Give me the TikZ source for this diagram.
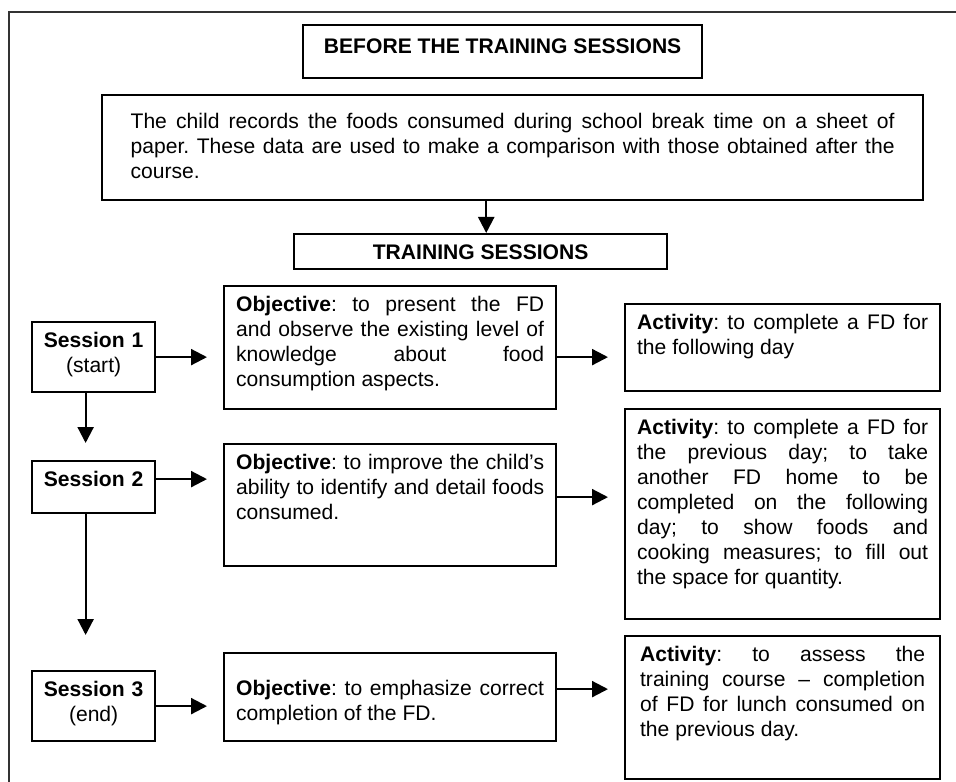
\documentclass[tikz,border=0pt]{standalone}
\usepackage{fontspec}
\setmainfont{Liberation Sans}
\usepackage{tikz}
\usetikzlibrary{arrows.meta}
\tolerance=10000
\hyphenpenalty=10000
\hbadness=10000
\frenchspacing

\begin{document}
\begin{tikzpicture}[
    every node/.style={font=\fontsize{15}{17.8}\selectfont},
    box/.style={draw,line width=1.6pt,anchor=north west,inner ysep=0.15cm,text height=0.475cm},
    txt/.style={box,inner xsep=0.3cm,align=justify},
    sess/.style={box,inner xsep=0.1cm,text width=2.875cm,align=center,text depth=#1},
    arr/.style={line width=1.6pt,-{Triangle[length=0.4cm,width=0.4cm]}},
    hor/.style={arr,shorten >=0.4cm}
  ]
  \useasboundingbox (0,0) rectangle (23.9,-19.55);
  % outer frame
  \draw[line width=0.9pt,black!80] (0.225,-0.3) rectangle (24.3,-20);

  % Before the sessions
  \node[box,minimum width=9.975cm,text height=0.55cm,text depth=0.475cm] (before) at (7.55,-0.6) {\textbf{BEFORE THE TRAINING SESSIONS}};
  \node[txt,inner xsep=0.7125cm,text width=19.1cm,text height=0.675cm,text depth=1.65cm] (intro) at (2.525,-2.35)
    {The child records the foods consumed during school break time on a sheet of\linebreak paper. These data are used to make a comparison with those obtained after the\linebreak course.};
  \node[box,minimum width=9.325cm,text depth=0.1cm] (training) at (7.325,-5.825) {\textbf{TRAINING SESSIONS}};

  % Sessions
  \node[sess=0.975cm] (s1) at (0.775,-8.025) {\textbf{Session 1}\\(start)};
  \node[sess=0.525cm] (s2) at (0.775,-11.5) {\textbf{Session 2}};
  \node[sess=0.975cm] (s3) at (0.775,-16.75) {\textbf{Session 3}\\(end)};

  % Objectives
  \node[txt,text width=7.7cm,text depth=2.3cm] (obj1) at (5.575,-7.125)
    {\textbf{Objective}: to present the FD\linebreak and observe the existing level of\linebreak knowledge about food\linebreak consumption aspects.};
  \node[txt,text width=7.7cm,text depth=2.275cm] (obj2) at (5.575,-11.075)
    {\textbf{Objective}: to improve the child's\linebreak ability to identify and detail foods\linebreak consumed.};
  \node[txt,text width=7.7cm,text height=0.9cm,text depth=1cm] (obj3) at (5.575,-16.3)
    {\textbf{Objective}: to emphasize correct\linebreak completion of the FD.};

  % Activities
  \node[txt,text width=7.275cm,text depth=1.4cm] (act1) at (15.6,-7.575)
    {\textbf{Activity}: to complete a FD for\linebreak the following day};
  \node[txt,text width=7.275cm,text depth=4.475cm] (act2) at (15.6,-10.2)
    {\textbf{Activity}: to complete a FD for\linebreak the previous day; to take\linebreak another FD home to be\linebreak completed on the following\linebreak day; to show foods and\linebreak cooking measures; to fill out\linebreak the space for quantity.};
  \node[txt,text width=7.125cm,minimum width=7.875cm,text depth=2.8cm] (act3) at (15.6,-15.875)
    {\textbf{Activity}: to assess the\linebreak training course -- completion\linebreak of FD for lunch consumed on\linebreak the previous day.};

  % Connectors
  \coordinate (tin) at ([xshift=0.14cm]training.north);
  \draw[arr] (tin |- intro.south) -- (tin);

  \draw[hor] (s1.east) -- (s1.east -| obj1.west);
  \draw[hor] (s1.east -| obj1.east) -- (s1.east -| act1.west);

  \coordinate (r2) at ([yshift=0.2cm]s2.east);
  \draw[hor] (r2) -- (r2 -| obj2.west);
  \coordinate (r2b) at ([yshift=0.2cm]obj2.east);
  \draw[hor] (r2b) -- (r2b -| act2.west);

  \draw[hor] (s3.east) -- (s3.east -| obj3.west);
  \coordinate (r3b) at ([yshift=0.2cm]obj3.east);
  \draw[hor] (r3b) -- (r3b -| act3.west);

  \coordinate (down1) at ([xshift=-0.2cm]s1.south);
  \draw[arr,shorten >=0.425cm] (down1) -- (down1 |- s2.north);
  \coordinate (down2) at ([xshift=-0.2cm]s2.south);
  \draw[arr,shorten >=0.875cm] (down2) -- (down2 |- s3.north);
\end{tikzpicture}
\end{document}
